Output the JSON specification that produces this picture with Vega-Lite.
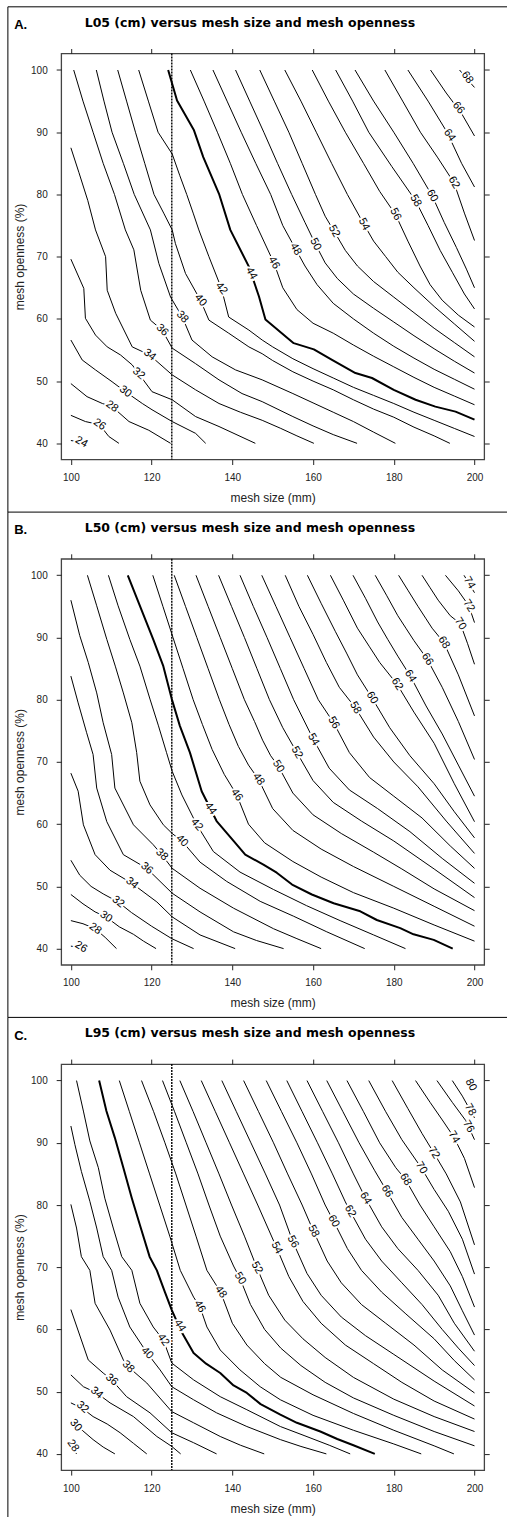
{
"$schema":"https://vega.github.io/schema/vega-lite/v6.json",
"background":"white",
"padding":{"left":6.2,"top":5.5,"right":0,"bottom":0},
"autosize":{"type":"pad"},
"datasets":{
"lines":[
{"p":"A","v":24,"x":[100,104],"y":[40.45,40]},
{"p":"A","v":26,"x":[100,103.6,107.1,109.4,111.9],"y":[44.5,43.5,43,41.1,40]},
{"p":"A","v":28,"x":[100,104,107.8,110.2,114.4,119.3,124.7],"y":[49.6,47.5,46.4,45.9,43.5,42.1,40]},
{"p":"A","v":30,"x":[100,102.8,106.1,110.2,113.5,117.7,120.1,125.1,130.9,133.4],"y":[56.6,53.4,51.8,49.9,48.3,46.4,45.4,43.5,41.6,40]},
{"p":"A","v":32,"x":[100,103.2,103.6,106.1,109,112.3,115.2,116.8,120.1,125.1,130.9,136.7,145.7],"y":[69.6,64.9,60.1,57.4,55.5,54.2,52.6,51.2,48.3,47,44.3,42.7,40]},
{"p":"A","v":34,"x":[100,102,104.2,106.1,108.6,109,111.1,115.2,119.5,125.1,130.9,136.7,142,147.4,152,156,160.2],"y":[87.5,83.5,79,74.3,70,64.6,60.9,55.5,54.2,51,48.6,46.4,45,43.7,42.4,41.2,40]},
{"p":"A","v":36,"x":[100.7,103,105.5,108,110.8,113.5,115.6,117.3,119.7,122.6,125.1,130.9,136.7,142.4,147.4,155,160,165,170.9],"y":[100,95,90,85,80,74.3,71.1,64.6,59.8,58.2,55.3,52.8,50.2,48,46.7,44.3,42.8,41.4,40]},
{"p":"A","v":38,"x":[106.3,108.2,110.2,113,115.7,119.7,121.8,124.7,127.6,130,135,140.8,147.4,155,160,165,170,175,180.4],"y":[100,95,90,85,80,74.3,68.9,63.5,60.3,56.6,53.9,51.8,50.2,48,46.5,45,43.5,41.8,40]},
{"p":"A","v":40,"x":[111.6,113.8,116,118.3,120.6,123,125.1,125.9,128.4,132.1,134.2,139.1,144.1,147.4,150,155,160,165,170,175,180,185,190,193.9],"y":[100,95,90,85,80,77,74.3,72.1,67.3,63,59.8,57.7,55.5,54.4,53.3,51.5,50,48.6,47,45.5,44.2,42.6,41.2,40]},
{"p":"A","v":42,"x":[116.8,119.2,121.6,125.1,127,128.7,130.3,131.7,134.2,137.3,139.1,144.1,147.4,150,155,160,165,170,175,180,185,190,195,200],"y":[100,95,90,86.5,83,80,77,74.3,70,64.9,60.3,58.2,56.6,55.5,53.6,52,50.5,49,47.7,46.4,45,43.7,42.4,41.1]},
{"p":"A","v":44,"x":[124.1,126.3,130.5,132.8,136.7,139.5,144.1,146.6,148.2,155.2,160.2,164.7,170.5,174.6,180,185.4,190.3,195.3,200],"y":[100,95.1,90.3,86,80.1,74.3,68.4,63.6,59.9,56.1,55.1,53.4,51.3,50.5,48.6,47,45.9,45.1,43.8]},
{"p":"A","v":46,"x":[129.6,133,136.3,139.5,142.5,146,150.3,152.5,156,160,165,170,175,180,185,190,195,200],"y":[100,95,90,85,80,75,69,65,61.5,59.3,57.7,55.8,54,52.3,50.6,49,47.6,46.2]},
{"p":"A","v":48,"x":[135.2,138.7,142.2,145.8,149.5,152.5,155.7,158,161,165,170,175,180,185,190,195,200],"y":[100,95,90,85,80,75,71.2,68.5,65.5,62.5,60,57.7,55.6,53.7,51.9,50.3,48.7]},
{"p":"A","v":50,"x":[140.8,144.3,147.8,151.2,154.7,158,160.6,163,166,170,175,180,185,190,195,200],"y":[100,95,90,85,80,75.5,72,69,66.5,64,61.7,59.5,57.3,55.2,53.2,51.3]},
{"p":"A","v":52,"x":[146.8,150.4,154,157.3,160.6,163,165.2,168,171,175,180,185,190,195,200],"y":[100,95,90,85,80,76.5,74.1,71,68.5,66,63.5,61,58.5,56.2,53.9]},
{"p":"A","v":54,"x":[153,157,160.8,164.6,168.5,172.6,175,178,181,185,190,195,200],"y":[100,95,90,85,80,75.2,72.5,70,67.5,65,62,59.2,56.4]},
{"p":"A","v":56,"x":[159.8,163.8,168,172.5,176.5,180.4,183.5,186.5,189,192,196,200],"y":[100,95,90,85,80.5,76.8,72.5,68.5,65.5,63,60.6,58.7]},
{"p":"A","v":58,"x":[165.6,169.8,173.8,179.5,185.4,188.5,191.5,194.5,197.5,200],"y":[100,95,90,84.5,79,75,71,67.5,64,61.6]},
{"p":"A","v":60,"x":[170.4,175,180,184.8,189.5,192.5,195.5,198,200],"y":[100,95,90,85,79.8,75.5,71.5,68,65]},
{"p":"A","v":62,"x":[177.8,182.2,186.6,190.8,194.9,197.5,200],"y":[100,95,90,86,81.9,77,72.6]},
{"p":"A","v":64,"x":[183.5,188.5,193.2,196.8,200],"y":[100,95,90,85,81.2]},
{"p":"A","v":66,"x":[189.1,193,196.8,200],"y":[100,96.3,93,89.4]},
{"p":"A","v":68,"x":[196.3,198.2,200],"y":[100,98.5,97.2]},
{"p":"B","v":26,"x":[100,104],"y":[40.4,40]},
{"p":"B","v":28,"x":[100,103,106,108.5,111.3],"y":[44.5,44,43.2,41.8,40]},
{"p":"B","v":30,"x":[100,103,106,108.7,112,115.5,118,121.1],"y":[48.7,47.2,45.9,45.1,43.5,42.3,41.2,40]},
{"p":"B","v":32,"x":[100,102.2,105,108,111.7,115,120,125,130.4],"y":[54.2,51.8,50,48.8,47.5,45.8,43.6,41.6,40]},
{"p":"B","v":34,"x":[100,101.8,103.1,106,109.7,115.1,121.3,125.1,132,140.7],"y":[68.2,65.3,59.9,55.1,52.6,50.5,47.5,45.1,42.2,40]},
{"p":"B","v":36,"x":[100,101.8,103.9,105.5,106.4,108.9,113,118.8,125.1,132,140.3,146,152.7],"y":[83.8,79.5,74.7,71.2,65.8,60.4,55.1,52.9,48.9,45.9,42.7,41.3,40]},
{"p":"B","v":38,"x":[100,102.2,104.3,106.4,108,110.1,110.9,115.5,120.4,122.5,125.1,132,140.3,150.2,156,162],"y":[96,90.3,86,81.1,76.3,71.2,65.8,59.9,56.7,55.1,52.9,49.7,46.5,43.2,41.6,40]},
{"p":"B","v":40,"x":[104.1,106.4,108.9,111,113,115.1,116.3,117.1,119.6,122.9,125.1,127.5,132,138.6,146.9,155.2,163.4,172.8],"y":[100,95.1,89.7,85.4,81.1,76.3,71.5,66.9,63.1,59.9,58.5,57.3,53.9,50.8,47.6,45.2,42.7,40]},
{"p":"B","v":42,"x":[109.3,111.7,114.6,117.1,119.6,121.7,123.7,125.1,127.5,131.2,135.3,141.9,150.2,158.4,166.7,175,182.9],"y":[100,95.1,89.7,85.4,80.1,75.8,71.5,68.5,64.7,59.9,55.6,52.3,49.5,46.9,44.5,42.2,40]},
{"p":"B","v":44,"x":[114.1,117.1,120.4,122.9,125,127,129.5,132.4,136.1,140.3,143.2,147.7,151,154.8,159.7,165.1,171.7,175.8,181.6,184.9,189.9,194.6],"y":[100,95.1,89.7,85.4,80.1,75.8,71.5,65.3,60.5,57.3,55.1,53.5,52.2,50.3,48.7,47.3,46,44.6,43.3,42.3,41.4,40]},
{"p":"B","v":46,"x":[120.3,122.8,125.3,127.8,130.3,132.6,135,138,141.1,144,148,155,162,170,180,190,200],"y":[100,95,90,85,80,76,72,68,64.7,60,57,54,51.5,49,46.5,43.8,41.2]},
{"p":"B","v":48,"x":[125.6,128.4,131.2,134,136.8,139.2,141.5,144,146.5,150,155,162,170,180,190,200],"y":[100,95,90,85,80,76,72.5,69.5,67.2,62.5,59,56,53.2,50,46.8,43.6]},
{"p":"B","v":50,"x":[131,134,137,140,143,145.5,147.5,149.5,151.4,155,160,167,175,182,190,200],"y":[100,95,90,85,80,76.5,73.5,71,69.3,65,61.5,58.5,55.5,52.8,49.6,46.1]},
{"p":"B","v":52,"x":[136.6,139.8,143,146.1,149.2,152.5,156,160,165,172,180,190,200],"y":[100,95,90,85,80,75.5,71.5,67,63.5,60.5,57.3,52.8,48.2]},
{"p":"B","v":54,"x":[141.9,145.2,148.6,151.9,155.2,160.1,164,169,176,184,192,200],"y":[100,95,90,85,80,73.6,69,65.5,62.5,58.8,54.5,50.5]},
{"p":"B","v":56,"x":[147.3,150.8,154.3,157.8,161.3,165.1,169,174,180,187,194,200],"y":[100,95,90,85,80,76.3,71.5,67.5,64.5,61,56.5,52.9]},
{"p":"B","v":58,"x":[153.1,156.5,160,163.3,166.5,170.5,175,180,186,193,200],"y":[100,95,90.5,86,82,78.7,74,70,66,60.5,55.3]},
{"p":"B","v":60,"x":[158.6,162,165.5,168.3,171,174.6,179,184,190,195,200],"y":[100,95.5,91,87.5,84,80.3,75.5,71,66.5,62,57.8]},
{"p":"B","v":62,"x":[164.3,167.5,171,174,176.5,180.8,185,190,195,200],"y":[100,96,91.5,88.5,86,82.5,78,73,66.5,60.4]},
{"p":"B","v":64,"x":[169.9,173,176,178.5,181,184.1,188,192,196,200],"y":[100,96.3,92.5,89.7,87,83.8,79,74.5,69.5,64.5]},
{"p":"B","v":66,"x":[175.4,178.2,181,183,185,188.3,192,196,200],"y":[100,96.8,93.5,91.5,89.5,86.5,82,76.5,70.4]},
{"p":"B","v":68,"x":[181.2,183.6,186,188,189.5,192.4,196,200],"y":[100,97.5,95,93,91.5,89.2,84,77.4]},
{"p":"B","v":70,"x":[187,189,191,194,196.5,198.3,200],"y":[100,98,96,93.5,92.2,89,85.7]},
{"p":"B","v":72,"x":[192.8,196,198.6,200],"y":[100,97.5,95.1,92.4]},
{"p":"B","v":74,"x":[197.4,200],"y":[100,97.2]},
{"p":"C","v":28,"x":[100,101.4],"y":[41.3,40]},
{"p":"C","v":30,"x":[100,102.8,105.5,108,110.9],"y":[45.2,43.8,42.3,41.1,40]},
{"p":"C","v":32,"x":[100,102.9,105.5,109,112.2,115.5,118.8],"y":[48.2,47.3,46,44.8,43.4,41.7,40]},
{"p":"C","v":34,"x":[100,103.1,106.4,109.7,115.5,121.3,125,127.2],"y":[52.7,50.8,49.8,48.2,46,42.8,41.2,40]},
{"p":"C","v":36,"x":[100,104.3,108,110.1,113.8,119.6,125,130.4,136.1],"y":[63.2,55.1,53,51.9,49.2,46.6,43.4,41.8,40]},
{"p":"C","v":38,"x":[100,101.4,102.6,104.7,106,109.7,113,114.2,118.8,125,130.4,137,142,147.9],"y":[80.1,76.3,71.7,69.5,64.2,59.9,55.1,54,51.4,46.8,45,42.8,41.4,40]},
{"p":"C","v":40,"x":[100,101,102.6,104.7,106.4,108,110.1,111.7,114.6,118.9,122.1,125,130.4,136.1,143.6,151.9,157,163.3],"y":[92.7,89.7,85.4,80.6,76.3,71.7,69.5,65.2,60.4,56.2,53.5,50.8,48.7,46.6,44.4,42.3,41.2,40]},
{"p":"C","v":42,"x":[101.4,103.1,104.7,106.8,108.4,110.5,112.6,115.1,117.1,120.4,122.9,125,130.4,137,143.6,151.9,158,164,169.2],"y":[100,95.1,90.3,86,81.1,76.3,71.7,69.5,64.2,60.4,58.3,54.6,51.9,49.2,47.1,44.4,42.9,41.4,40]},
{"p":"C","v":44,"x":[107,108.8,110.9,113,115.1,117.1,119.5,121.3,123.3,125,127.5,130.4,133.5,137,140.3,143.6,147,151.9,156,161.8,166,170,175.3],"y":[100,95.1,90.8,86,81.1,76.8,71.7,69.5,66,63.1,59.5,56.2,54.5,53,51,49.8,48,46.3,45,43.6,42.4,41.4,40]},
{"p":"C","v":46,"x":[112,114.5,117,119.5,122,124.5,127.1,130.4,132,133.7,137,141.9,146.9,151.9,160,170,180,186.8],"y":[100,95,90,85,80,75,69.5,65.2,63.6,60.4,56.7,53.5,50.8,48.7,46.2,43.8,41.6,40]},
{"p":"C","v":48,"x":[117.5,120.5,123.3,126,128.5,131,133.7,137.1,140,143.6,148,152,160,170,180,190,194.9],"y":[100,95,90,85,80,75,69.5,66,61,57.5,54.5,52.3,49.5,46.5,43.8,41.3,40]},
{"p":"C","v":50,"x":[122.7,125.7,128.6,131.5,134.2,137,140.3,141.9,144.5,148,152,157,163,170,180,190,200],"y":[100,95,90,85,80,75,70.2,68.2,64,60,57,54.2,51.5,49,46.2,43.6,41.3]},
{"p":"C","v":52,"x":[127,130.3,133.5,136.7,139.8,143,146.1,149,153,157.5,163,170,180,190,200],"y":[100,95,90,85,80,75,69.9,65.5,61.5,58.5,55.5,52.3,48.8,46,43.6]},
{"p":"C","v":54,"x":[132.3,135.8,139.3,142.8,146.3,151,154,157.5,162,168,175,182,190,200],"y":[100,95,90,85,80,73.1,68.5,64.5,61,57.5,54.5,51.5,48.5,45.6]},
{"p":"C","v":56,"x":[137.4,141,144.6,148.2,151.7,155,158.5,162,167,173,180,190,200],"y":[100,95,90,85,80,74.1,69,65.5,62,59,56,51.7,47.7]},
{"p":"C","v":58,"x":[142.8,146.5,150.2,153.7,157.3,160.1,163.5,167,172,178,185,192,200],"y":[100,95,90,85,80,75.8,71,67.5,64,61,57.5,53.5,49.8]},
{"p":"C","v":60,"x":[148.4,152.2,156,159.6,163,165.1,168.5,172,177,183,190,195,200],"y":[100,95,90,85,80,77.4,73,69.5,66,62.5,58.5,55,51.9]},
{"p":"C","v":62,"x":[153.5,157.3,161.1,164.8,168,169.2,173,177,182,187,192,196,200],"y":[100,95,90,85,80.5,79,74.5,71,67.5,64,60,57,54.2]},
{"p":"C","v":64,"x":[158.5,162.4,166.3,170,173,177,181,186,191,195,200],"y":[100,95,90,85,81.1,76.5,73,69.5,65.5,61,56.5]},
{"p":"C","v":66,"x":[163.4,167.4,171.4,175.3,178.3,182,186,190,194,197,200],"y":[100,95,90,85.5,82.2,78,74.5,71,67,63,59.1]},
{"p":"C","v":68,"x":[168.4,172.5,176.5,180.5,182.9,186.5,190,194,197,200],"y":[100,95,90,86,84.1,80,76.5,72.5,68.5,63.6]},
{"p":"C","v":70,"x":[173.8,178,182,186.8,190,193.5,197,200],"y":[100,95,90.5,86,82.5,79,74.5,68.9]},
{"p":"C","v":72,"x":[179.6,183.5,187,189.9,193,196.5,200],"y":[100,95.5,91.5,88.4,85,80.5,73.6]},
{"p":"C","v":74,"x":[185.4,189,192.2,194.9,197.5,200],"y":[100,96.5,93.5,90.9,87.5,82.8]},
{"p":"C","v":76,"x":[190.7,194.5,197.8,200],"y":[100,96.5,93.6,90.5]},
{"p":"C","v":78,"x":[194.5,197,200],"y":[100,97.5,94]},
{"p":"C","v":80,"x":[198.3,200],"y":[100,98.6]}
],
"labels":[
{"p":"A","v":24,"x":102.6,"y":40.2,"a":30},{"p":"A","v":26,"x":107.1,"y":43,"a":35},{"p":"A","v":28,"x":110.2,"y":45.9,"a":35},{"p":"A","v":30,"x":113.5,"y":48.3,"a":38},{"p":"A","v":32,"x":116.8,"y":51.2,"a":40},{"p":"A","v":34,"x":119.5,"y":54.2,"a":38},{"p":"A","v":36,"x":122.6,"y":58.2,"a":45},{"p":"A","v":38,"x":127.6,"y":60.3,"a":48},{"p":"A","v":40,"x":132.1,"y":63,"a":50},{"p":"A","v":42,"x":137.3,"y":64.9,"a":52},{"p":"A","v":44,"x":144.7,"y":67.3,"a":62},{"p":"A","v":46,"x":150.3,"y":69,"a":60},{"p":"A","v":48,"x":155.7,"y":71.2,"a":60},{"p":"A","v":50,"x":160.6,"y":72,"a":62},{"p":"A","v":52,"x":165.2,"y":74.1,"a":62},{"p":"A","v":54,"x":172.6,"y":75.2,"a":62},{"p":"A","v":56,"x":180.4,"y":76.8,"a":62},{"p":"A","v":58,"x":185.4,"y":79,"a":60},{"p":"A","v":60,"x":189.5,"y":79.8,"a":60},{"p":"A","v":62,"x":194.9,"y":81.9,"a":58},{"p":"A","v":64,"x":193.8,"y":89.5,"a":55},{"p":"A","v":66,"x":196,"y":93.9,"a":52},{"p":"A","v":68,"x":198.2,"y":98.8,"a":55},
{"p":"B","v":26,"x":102.5,"y":40.25,"a":30},{"p":"B","v":28,"x":106,"y":43.2,"a":35},{"p":"B","v":30,"x":108.7,"y":45.1,"a":35},{"p":"B","v":32,"x":111.7,"y":47.5,"a":38},{"p":"B","v":34,"x":115.1,"y":50.5,"a":40},{"p":"B","v":36,"x":118.8,"y":52.9,"a":40},{"p":"B","v":38,"x":122.5,"y":55.1,"a":42},{"p":"B","v":40,"x":127.5,"y":57.3,"a":45},{"p":"B","v":42,"x":131.2,"y":59.9,"a":50},{"p":"B","v":44,"x":134.6,"y":62.5,"a":55},{"p":"B","v":46,"x":141.1,"y":64.7,"a":55},{"p":"B","v":48,"x":146.5,"y":67.2,"a":55},{"p":"B","v":50,"x":151.4,"y":69.3,"a":58},{"p":"B","v":52,"x":156,"y":71.5,"a":60},{"p":"B","v":54,"x":160.1,"y":73.6,"a":60},{"p":"B","v":56,"x":165.1,"y":76.3,"a":60},{"p":"B","v":58,"x":170.5,"y":78.7,"a":60},{"p":"B","v":60,"x":174.6,"y":80.3,"a":60},{"p":"B","v":62,"x":180.8,"y":82.5,"a":58},{"p":"B","v":64,"x":184.1,"y":83.8,"a":58},{"p":"B","v":66,"x":188.3,"y":86.5,"a":57},{"p":"B","v":68,"x":192.4,"y":89.2,"a":57},{"p":"B","v":70,"x":196.5,"y":92.2,"a":57},{"p":"B","v":72,"x":198.6,"y":95.1,"a":57},{"p":"B","v":74,"x":198.7,"y":98.8,"a":60},
{"p":"C","v":28,"x":100.5,"y":41.3,"a":55},{"p":"C","v":30,"x":101.2,"y":44.6,"a":50},{"p":"C","v":32,"x":102.9,"y":47.5,"a":42},{"p":"C","v":34,"x":106.4,"y":49.8,"a":40},{"p":"C","v":36,"x":110.1,"y":51.9,"a":42},{"p":"C","v":38,"x":114.2,"y":54,"a":45},{"p":"C","v":40,"x":118.9,"y":56.2,"a":45},{"p":"C","v":42,"x":122.9,"y":58.3,"a":55},{"p":"C","v":44,"x":127,"y":60.6,"a":58},{"p":"C","v":46,"x":131.9,"y":63.7,"a":60},{"p":"C","v":48,"x":137.1,"y":66,"a":55},{"p":"C","v":50,"x":141.9,"y":68.2,"a":58},{"p":"C","v":52,"x":146.1,"y":69.9,"a":60},{"p":"C","v":54,"x":151,"y":73.1,"a":62},{"p":"C","v":56,"x":155,"y":74.1,"a":62},{"p":"C","v":58,"x":160.1,"y":75.8,"a":62},{"p":"C","v":60,"x":165.1,"y":77.4,"a":62},{"p":"C","v":62,"x":169.2,"y":79,"a":60},{"p":"C","v":64,"x":173,"y":81.1,"a":60},{"p":"C","v":66,"x":178.3,"y":82.2,"a":60},{"p":"C","v":68,"x":182.9,"y":84.1,"a":60},{"p":"C","v":70,"x":186.8,"y":86,"a":60},{"p":"C","v":72,"x":189.9,"y":88.4,"a":58},{"p":"C","v":74,"x":194.9,"y":90.9,"a":58},{"p":"C","v":76,"x":198.5,"y":92.6,"a":60},{"p":"C","v":78,"x":198.9,"y":95.3,"a":60},{"p":"C","v":80,"x":199.1,"y":99.3,"a":62}
]
},
"spacing":99.3,
"bounds":"flush",
"vconcat":[
{"width":423,"height":406,
"layer":[
{"data":{"values":[{}]},"mark":{"type":"rule","clip":false,"color":"black","strokeWidth":1},"encoding":{"x":{"datum":84.39,"type":"quantitative","scale":{"domain":[97.6,202.4],"nice":false,"zero":false},"axis":null},"x2":{"datum":215},"y":{"datum":110.155,"type":"quantitative","scale":{"domain":[37.4,102.65],"nice":false,"zero":false},"axis":null}}},
{"data":{"values":[{}]},"mark":{"type":"rule","clip":false,"color":"black","strokeWidth":1},"encoding":{"x":{"datum":84.39,"type":"quantitative","axis":null},"y":{"datum":110.155,"type":"quantitative","axis":null},"y2":{"datum":28.95}}},
{"data":{"values":[{}]},"mark":{"type":"rule","color":"black","strokeWidth":1.4,"strokeDash":[2,1]},"encoding":{"x":{"datum":125,"type":"quantitative","axis":null}}},
{"data":{"name":"lines"},"transform":[{"filter":"datum.p == 'A'"},{"flatten":["x","y"]}],"mark":{"type":"line","color":"black","strokeJoin":"round"},"encoding":{"x":{"field":"x","type":"quantitative","axis":{"orient":"bottom","values":[100,120,140,160,180,200],"title":"mesh size (mm)","labelPadding":8,"titlePadding":10}},"y":{"field":"y","type":"quantitative","axis":{"orient":"left","values":[40,50,60,70,80,90,100],"title":"mesh openness (%)","labelPadding":9,"titlePadding":4,"labelAngle":0}},"detail":{"field":"v"},"order":{"field":"y","sort":"descending"},"strokeWidth":{"condition":{"test":"datum.v == 44","value":2},"value":1}}},
{"data":{"name":"labels"},"transform":[{"filter":"datum.p == 'A'"}],"mark":{"type":"text","font":"Liberation Sans","fontSize":11,"color":"white","stroke":"white","strokeWidth":4,"strokeJoin":"round"},"encoding":{"x":{"field":"x","type":"quantitative","axis":{"orient":"top","values":[100,120,140,160,180,200],"labels":false,"title":"L05 (cm) versus mesh size and mesh openness","titleAnchor":"start","titleAlign":"left","titleX":23,"titleY":-27.4,"titleBaseline":"alphabetic","titleFont":"DejaVu Sans","titleFontSize":12.5,"titleFontWeight":"bold","titleColor":"black"}},"y":{"field":"y","type":"quantitative","axis":{"orient":"right","values":[40,50,60,70,80,90,100],"labels":false,"title":null}},"text":{"field":"v"},"angle":{"field":"a","type":"quantitative","scale":null}}},
{"data":{"name":"labels"},"transform":[{"filter":"datum.p == 'A'"}],"mark":{"type":"text","font":"Liberation Sans","fontSize":11,"color":"black"},"encoding":{"x":{"field":"x","type":"quantitative","axis":null},"y":{"field":"y","type":"quantitative","axis":null},"text":{"field":"v"},"angle":{"field":"a","type":"quantitative","scale":null}}},
{"data":{"values":[{}]},"mark":{"type":"text","clip":false,"text":"A.","align":"left","baseline":"alphabetic","font":"Liberation Sans","fontSize":13,"fontWeight":"bold","color":"black"},"encoding":{"x":{"datum":85.95,"type":"quantitative","axis":null},"y":{"datum":106.57,"type":"quantitative","axis":null}}}
],
"resolve":{"axis":{"x":"independent","y":"independent"}}},
{"width":423,"height":406,
"layer":[
{"data":{"values":[{}]},"mark":{"type":"rule","clip":false,"color":"black","strokeWidth":1},"encoding":{"x":{"datum":84.39,"type":"quantitative","scale":{"domain":[97.6,202.4],"nice":false,"zero":false},"axis":null},"x2":{"datum":215},"y":{"datum":110.155,"type":"quantitative","scale":{"domain":[37.4,102.65],"nice":false,"zero":false},"axis":null}}},
{"data":{"values":[{}]},"mark":{"type":"rule","clip":false,"color":"black","strokeWidth":1},"encoding":{"x":{"datum":84.39,"type":"quantitative","axis":null},"y":{"datum":110.155,"type":"quantitative","axis":null},"y2":{"datum":28.95}}},
{"data":{"values":[{}]},"mark":{"type":"rule","color":"black","strokeWidth":1.4,"strokeDash":[2,1]},"encoding":{"x":{"datum":125,"type":"quantitative","axis":null}}},
{"data":{"name":"lines"},"transform":[{"filter":"datum.p == 'B'"},{"flatten":["x","y"]}],"mark":{"type":"line","color":"black","strokeJoin":"round"},"encoding":{"x":{"field":"x","type":"quantitative","axis":{"orient":"bottom","values":[100,120,140,160,180,200],"title":"mesh size (mm)","labelPadding":8,"titlePadding":10}},"y":{"field":"y","type":"quantitative","axis":{"orient":"left","values":[40,50,60,70,80,90,100],"title":"mesh openness (%)","labelPadding":9,"titlePadding":4,"labelAngle":0}},"detail":{"field":"v"},"order":{"field":"y","sort":"descending"},"strokeWidth":{"condition":{"test":"datum.v == 44","value":2},"value":1}}},
{"data":{"name":"labels"},"transform":[{"filter":"datum.p == 'B'"}],"mark":{"type":"text","font":"Liberation Sans","fontSize":11,"color":"white","stroke":"white","strokeWidth":4,"strokeJoin":"round"},"encoding":{"x":{"field":"x","type":"quantitative","axis":{"orient":"top","values":[100,120,140,160,180,200],"labels":false,"title":"L50 (cm) versus mesh size and mesh openness","titleAnchor":"start","titleAlign":"left","titleX":23,"titleY":-27.4,"titleBaseline":"alphabetic","titleFont":"DejaVu Sans","titleFontSize":12.5,"titleFontWeight":"bold","titleColor":"black"}},"y":{"field":"y","type":"quantitative","axis":{"orient":"right","values":[40,50,60,70,80,90,100],"labels":false,"title":null}},"text":{"field":"v"},"angle":{"field":"a","type":"quantitative","scale":null}}},
{"data":{"name":"labels"},"transform":[{"filter":"datum.p == 'B'"}],"mark":{"type":"text","font":"Liberation Sans","fontSize":11,"color":"black"},"encoding":{"x":{"field":"x","type":"quantitative","axis":null},"y":{"field":"y","type":"quantitative","axis":null},"text":{"field":"v"},"angle":{"field":"a","type":"quantitative","scale":null}}},
{"data":{"values":[{}]},"mark":{"type":"text","clip":false,"text":"B.","align":"left","baseline":"alphabetic","font":"Liberation Sans","fontSize":13,"fontWeight":"bold","color":"black"},"encoding":{"x":{"datum":85.95,"type":"quantitative","axis":null},"y":{"datum":106.57,"type":"quantitative","axis":null}}}
],
"resolve":{"axis":{"x":"independent","y":"independent"}}},
{"width":423,"height":406,
"layer":[
{"data":{"values":[{}]},"mark":{"type":"rule","clip":false,"color":"black","strokeWidth":1},"encoding":{"x":{"datum":84.39,"type":"quantitative","scale":{"domain":[97.6,202.4],"nice":false,"zero":false},"axis":null},"x2":{"datum":215},"y":{"datum":110.155,"type":"quantitative","scale":{"domain":[37.4,102.65],"nice":false,"zero":false},"axis":null}}},
{"data":{"values":[{}]},"mark":{"type":"rule","clip":false,"color":"black","strokeWidth":1},"encoding":{"x":{"datum":84.39,"type":"quantitative","axis":null},"y":{"datum":110.155,"type":"quantitative","axis":null},"y2":{"datum":28.95}}},
{"data":{"values":[{}]},"mark":{"type":"rule","color":"black","strokeWidth":1.4,"strokeDash":[2,1]},"encoding":{"x":{"datum":125,"type":"quantitative","axis":null}}},
{"data":{"name":"lines"},"transform":[{"filter":"datum.p == 'C'"},{"flatten":["x","y"]}],"mark":{"type":"line","color":"black","strokeJoin":"round"},"encoding":{"x":{"field":"x","type":"quantitative","axis":{"orient":"bottom","values":[100,120,140,160,180,200],"title":"mesh size (mm)","labelPadding":8,"titlePadding":10}},"y":{"field":"y","type":"quantitative","axis":{"orient":"left","values":[40,50,60,70,80,90,100],"title":"mesh openness (%)","labelPadding":9,"titlePadding":4,"labelAngle":0}},"detail":{"field":"v"},"order":{"field":"y","sort":"descending"},"strokeWidth":{"condition":{"test":"datum.v == 44","value":2},"value":1}}},
{"data":{"name":"labels"},"transform":[{"filter":"datum.p == 'C'"}],"mark":{"type":"text","font":"Liberation Sans","fontSize":11,"color":"white","stroke":"white","strokeWidth":4,"strokeJoin":"round"},"encoding":{"x":{"field":"x","type":"quantitative","axis":{"orient":"top","values":[100,120,140,160,180,200],"labels":false,"title":"L95 (cm) versus mesh size and mesh openness","titleAnchor":"start","titleAlign":"left","titleX":23,"titleY":-27.4,"titleBaseline":"alphabetic","titleFont":"DejaVu Sans","titleFontSize":12.5,"titleFontWeight":"bold","titleColor":"black"}},"y":{"field":"y","type":"quantitative","axis":{"orient":"right","values":[40,50,60,70,80,90,100],"labels":false,"title":null}},"text":{"field":"v"},"angle":{"field":"a","type":"quantitative","scale":null}}},
{"data":{"name":"labels"},"transform":[{"filter":"datum.p == 'C'"}],"mark":{"type":"text","font":"Liberation Sans","fontSize":11,"color":"black"},"encoding":{"x":{"field":"x","type":"quantitative","axis":null},"y":{"field":"y","type":"quantitative","axis":null},"text":{"field":"v"},"angle":{"field":"a","type":"quantitative","scale":null}}},
{"data":{"values":[{}]},"mark":{"type":"text","clip":false,"text":"C.","align":"left","baseline":"alphabetic","font":"Liberation Sans","fontSize":13,"fontWeight":"bold","color":"black"},"encoding":{"x":{"datum":85.95,"type":"quantitative","axis":null},"y":{"datum":106.57,"type":"quantitative","axis":null}}}
],
"resolve":{"axis":{"x":"independent","y":"independent"}}}
],
"config":{
"view":{"stroke":"#444","strokeWidth":1.3},
"axis":{"grid":false,"domain":false,"ticks":true,"tickSize":5,"tickColor":"#222","tickWidth":1,"labelFont":"Liberation Sans","labelFontSize":10,"labelColor":"#222","titleFont":"Liberation Sans","titleFontSize":12,"titleFontWeight":"normal","titleColor":"#222"}
}
}
